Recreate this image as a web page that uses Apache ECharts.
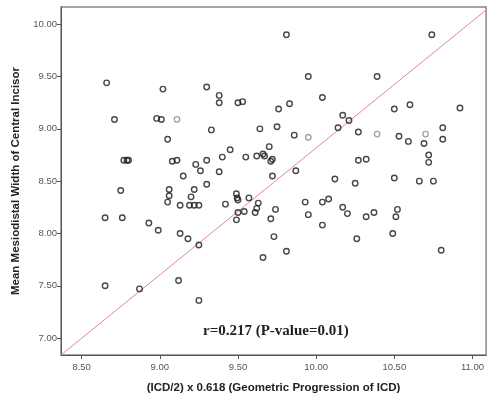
<!DOCTYPE html>
<html>
<head>
<meta charset="utf-8">
<script src="https://cdn.jsdelivr.net/npm/echarts@6/dist/echarts.min.js"></script>
<style>
  html, body { margin: 0; padding: 0; background: #fff; }
  #chart { width: 487px; height: 399px; }
</style>
</head>
<body>
<div id="chart"></div>
<script>
  // ICD progression vs. mean mesiodistal width
  const icdX = [
    8.66, 9.02, 9.30, 9.38, 9.38, 9.50, 9.53, 8.71, 8.98, 9.01,
    9.05, 9.33, 8.77, 8.79, 8.80, 9.08, 9.11, 9.30, 9.40, 9.45,
    9.55, 9.23, 9.26, 9.15, 9.38, 9.30, 8.75, 9.06, 9.06, 9.05,
    9.22, 9.20, 9.49, 9.495, 9.50, 9.81, 10.74, 9.95, 10.39, 10.04,
    9.83, 9.76, 10.50, 10.60, 10.92, 10.17, 10.21, 10.14, 9.64, 9.75,
    9.86, 10.27, 10.53, 10.59, 10.69, 10.81, 10.81, 9.62, 9.66, 9.67,
    9.70, 9.71, 9.72, 9.72, 9.87, 10.27, 10.32, 10.72, 10.72, 10.12,
    10.25, 10.50, 10.66, 10.75, 9.57, 10.08, 8.65, 8.76, 8.93, 8.99,
    9.13, 9.18, 9.25, 8.65, 8.87, 9.12, 9.25, 9.13, 9.19, 9.22,
    9.25, 9.42, 9.50, 9.54, 9.49, 9.63, 9.62, 9.61, 9.74, 9.71,
    9.73, 9.66, 9.81, 9.93, 9.95, 10.04, 10.04, 10.17, 10.20, 10.26,
    10.32, 10.37, 10.49, 10.52, 10.51, 10.80
  ];
  const widthY = [
    9.44, 9.38, 9.40, 9.32, 9.25, 9.25, 9.26, 9.09, 9.10, 9.09,
    8.90, 8.99, 8.70, 8.70, 8.70, 8.69, 8.70, 8.70, 8.73, 8.80,
    8.73, 8.66, 8.60, 8.55, 8.59, 8.47, 8.41, 8.42, 8.36, 8.30,
    8.42, 8.35, 8.38, 8.34, 8.32, 9.90, 9.90, 9.50, 9.50, 9.30,
    9.24, 9.19, 9.19, 9.23, 9.20, 9.13, 9.08, 9.01, 9.00, 9.02,
    8.94, 8.97, 8.93, 8.88, 8.86, 9.01, 8.90, 8.74, 8.76, 8.74,
    8.83, 8.69, 8.71, 8.55, 8.60, 8.70, 8.71, 8.75, 8.68, 8.52,
    8.48, 8.53, 8.50, 8.50, 8.34, 8.33, 8.15, 8.15, 8.10, 8.03,
    8.00, 7.95, 7.89, 7.50, 7.47, 7.55, 7.36, 8.27, 8.27, 8.27,
    8.27, 8.28, 8.20, 8.21, 8.13, 8.29, 8.24, 8.20, 8.23, 8.14,
    7.97, 7.77, 7.83, 8.30, 8.18, 8.30, 8.08, 8.25, 8.19, 7.95,
    8.16, 8.20, 8.00, 8.23, 8.16, 7.84
  ];
  // lighter printed markers
  const greyX = [9.11, 9.95, 10.39, 10.70];
  const greyY = [9.09, 8.92, 8.95, 8.95];

  const lineX = [8.368, 11.087];
  const lineY = [6.838, 10.136];

  const xTicks = [8.5, 9.0, 9.5, 10.0, 10.5, 11.0];
  const yTicks = [7.0, 7.5, 8.0, 8.5, 9.0, 9.5, 10.0];

  const pairs = (a, b) => a.map((v, i) => [v, b[i]]);

  let chart = echarts.init(document.getElementById('chart'), null, {renderer: 'canvas'});

  let axisCommon = {
    type: 'value',
    scale: true,
    splitLine: {show: false},
    axisLine: {show: true, lineStyle: {color: '#555', width: 1}},
    axisTick: {show: true, length: 4, lineStyle: {color: '#555'}},
    nameTextStyle: {
      color: '#222',
      fontWeight: 'bold',
      fontSize: 11.5,
      fontFamily: 'Liberation Sans, Arial, sans-serif'
    }
  };

  chart.setOption({
    animation: false,
    backgroundColor: '#fff',
    grid: {
      left: 61, right: 0, top: 7, bottom: 43,
      show: true,
      borderColor: '#888',
      borderWidth: 1.5
    },
    xAxis: Object.assign({}, axisCommon, {
      min: 8.368,
      max: 11.087,
      name: '(ICD/2) x 0.618 (Geometric Progression of ICD)',
      nameLocation: 'middle',
      nameGap: 27,
      axisTick: Object.assign({}, axisCommon.axisTick, {customValues: xTicks}),
      axisLabel: {
        customValues: xTicks,
        formatter: v => v.toFixed(2),
        color: '#555',
        fontSize: 9.5,
        margin: 7,
        fontFamily: 'Liberation Sans, Arial, sans-serif'
      }
    }),
    yAxis: Object.assign({}, axisCommon, {
      min: 6.838,
      max: 10.165,
      name: 'Mean Mesiodistal Width of Central Incisor',
      nameLocation: 'middle',
      nameGap: 35,
      axisTick: Object.assign({}, axisCommon.axisTick, {customValues: yTicks}),
      axisLabel: {
        customValues: yTicks,
        formatter: v => v.toFixed(2),
        color: '#555',
        fontSize: 9.5,
        margin: 4,
        fontFamily: 'Liberation Sans, Arial, sans-serif'
      }
    }),
    graphic: [{
      type: 'text',
      left: 203,
      top: 324,
      style: {
        text: 'r=0.217 (P-value=0.01)',
        fill: '#222',
        font: 'bold 15px "Liberation Serif", "Times New Roman", serif'
      }
    }],
    series: [
      {
        type: 'line',
        data: pairs(lineX, lineY),
        showSymbol: false,
        symbol: 'none',
        lineStyle: {color: '#e08a8a', width: 1},
        z: 1
      },
      {
        type: 'scatter',
        data: pairs(icdX, widthY),
        symbol: 'circle',
        symbolSize: 5.5,
        itemStyle: {color: 'rgba(0,0,0,0)', borderColor: '#1a1a1a', borderWidth: 1.4},
        z: 3
      },
      {
        type: 'scatter',
        data: pairs(greyX, greyY),
        symbol: 'circle',
        symbolSize: 5.5,
        itemStyle: {color: 'rgba(0,0,0,0)', borderColor: '#8a8a8a', borderWidth: 1.3},
        z: 3
      }
    ]
  });
</script>
</body>
</html>
